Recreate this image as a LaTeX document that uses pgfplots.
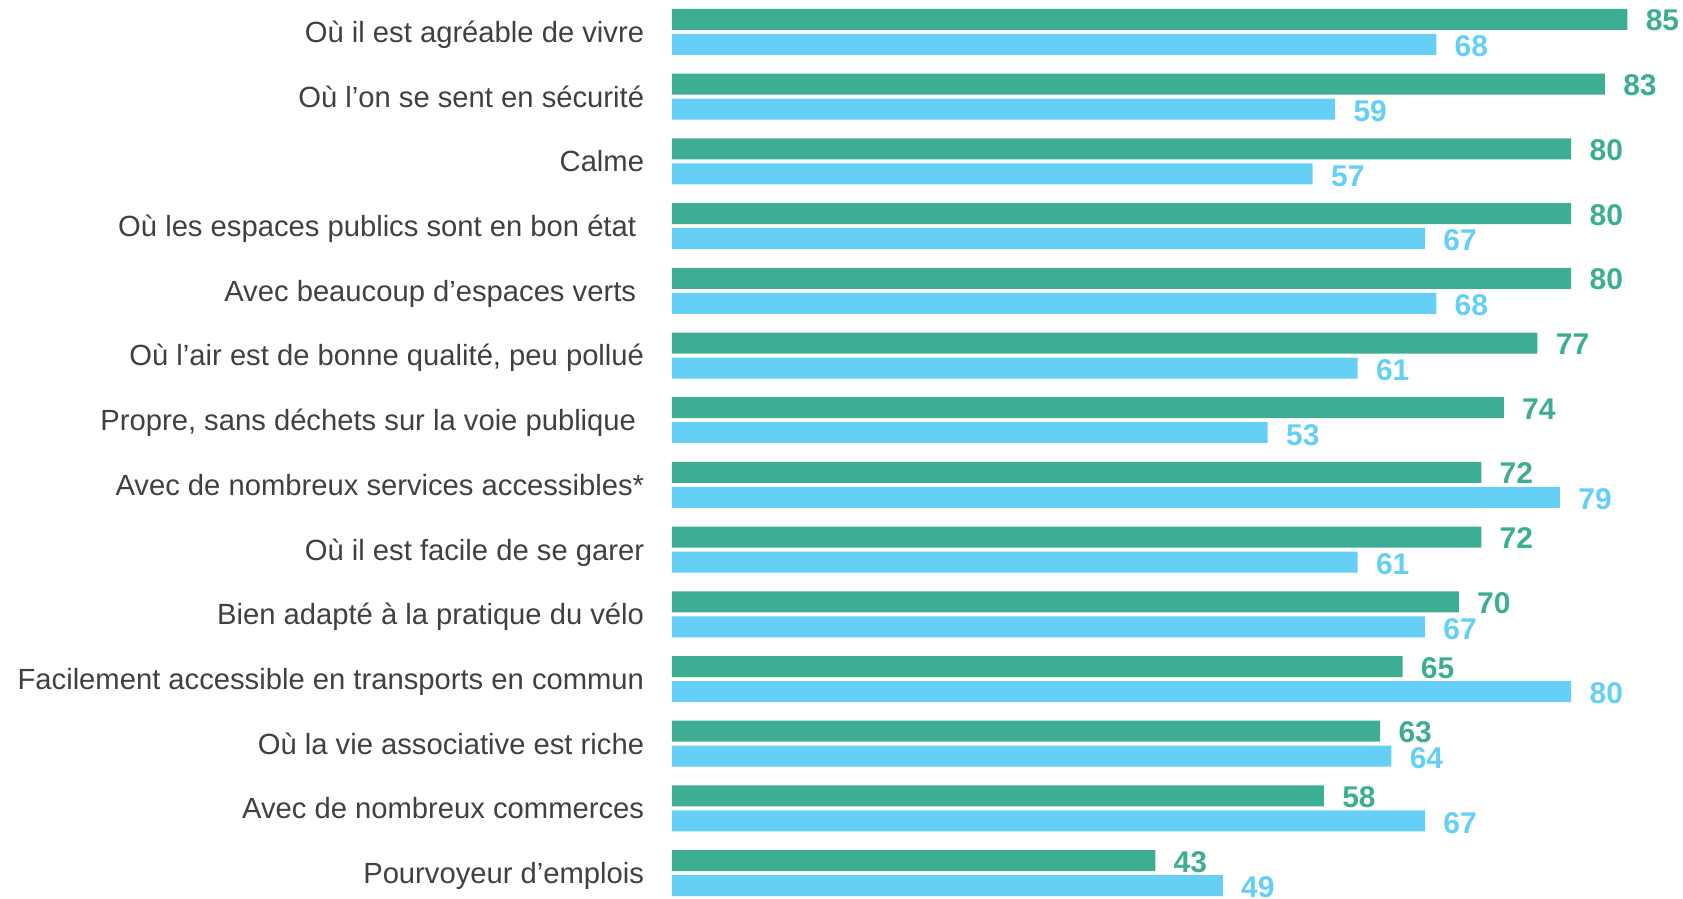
\documentclass[border=0pt]{standalone}
\usepackage{fontspec}
\setmainfont{Liberation Sans}
\usepackage{pgfplots}
\pgfplotsset{compat=1.18}
\definecolor{cgreen}{HTML}{3DAE93}
\definecolor{cblue}{HTML}{66CFF5}
\definecolor{ctext}{HTML}{404040}
\begin{document}
\begin{tikzpicture}
\path[use as bounding box] (0,0) rectangle (841.5pt,-449.5pt);
\begin{pgfinterruptboundingbox}
\begin{axis}[
  at={(336pt,0.175pt)}, anchor=north west,
  x=5.62pt, y=32.35pt,
  xmin=0, xmax=95, ymin=-0.5, ymax=13.5,
  xbar, bar width=10.5pt,
  axis line style={draw=none}, tick style={draw=none},
  xtick=\empty, ytick={0,...,13},
  yticklabels={Pourvoyeur d’emplois, Avec de nombreux commerces, Où la vie associative est riche, Facilement accessible en transports en commun, Bien adapté à la pratique du vélo, Où il est facile de se garer, Avec de nombreux services accessibles*, {Propre, sans déchets sur la voie publique\rule{4pt}{0pt}}, {Où l’air est de bonne qualité, peu pollué}, {Avec beaucoup d’espaces verts\rule{4pt}{0pt}}, {Où les espaces publics sont en bon état\rule{4pt}{0pt}}, Calme, Où l’on se sent en sécurité, Où il est agréable de vivre},
  yticklabel style={font=\fontsize{14.6}{17}\selectfont, text=ctext, inner sep=0pt, anchor=east, xshift=-9.5pt, text height=10.45pt, text depth=0pt},
  /pgf/number format/assume math mode=true,
  nodes near coords,
  every node near coord/.append style={font=\fontsize{15}{15}\selectfont\bfseries, anchor=west, inner sep=0pt, xshift=9pt, text height=10.7pt, text depth=0pt},
]
\addplot[fill=cgreen, draw=none, bar shift=6.25pt, every node near coord/.append style={text=cgreen, yshift=-0.4pt}] coordinates {
(85,13) (83,12) (80,11) (80,10) (80,9) (77,8) (74,7) (72,6) (72,5) (70,4) (65,3) (63,2) (58,1) (43,0)};
\addplot[fill=cblue, draw=none, bar shift=-6.25pt, every node near coord/.append style={text=cblue, yshift=-0.8pt}] coordinates {
(68,13) (59,12) (57,11) (67,10) (68,9) (61,8) (53,7) (79,6) (61,5) (67,4) (80,3) (64,2) (67,1) (49,0)};
\end{axis}
\end{pgfinterruptboundingbox}
\end{tikzpicture}
\end{document}
